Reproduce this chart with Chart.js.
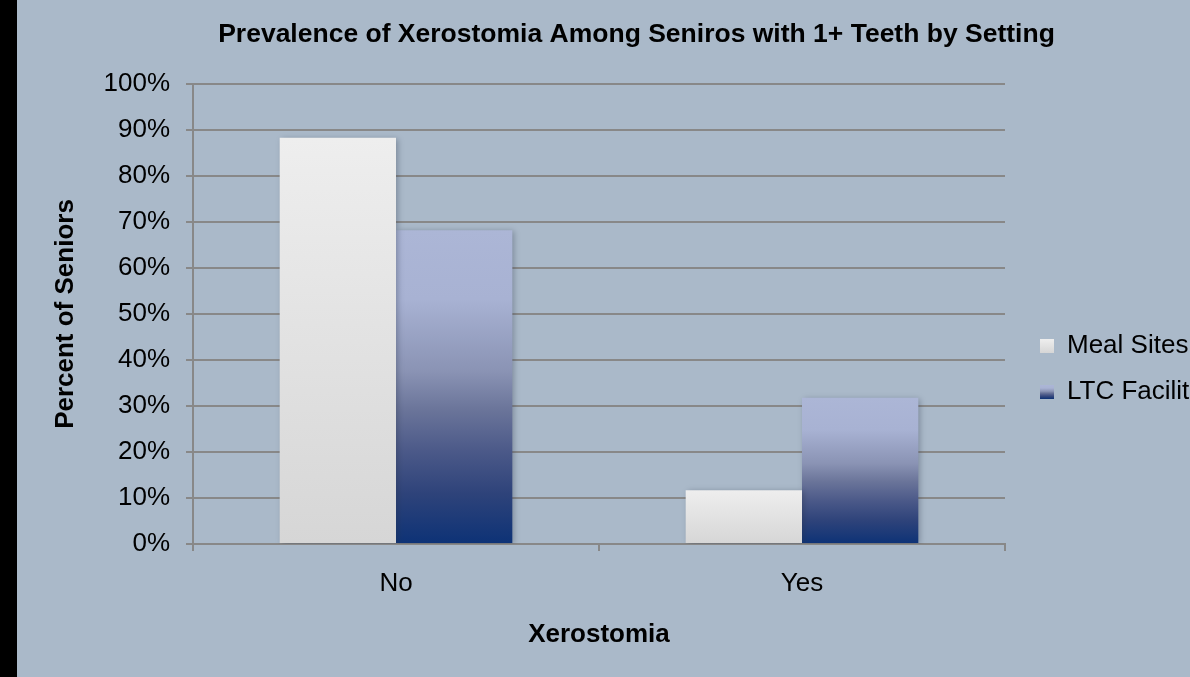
<!DOCTYPE html>
<html>
<head>
<meta charset="utf-8">
<script src="https://cdn.jsdelivr.net/npm/chart.js@4.4.0/dist/chart.umd.min.js"></script>
<style>
html,body{margin:0;padding:0;background:#AAB9C9;overflow:hidden}
canvas{display:block}
</style>
</head>
<body>
<canvas id="c" width="1190" height="677" style="width:1190px;height:677px"></canvas>
<script>
// ---- data ----
const categories = ['No', 'Yes'];
const seriesNames = ['Meal Sites', 'LTC Facilities'];
const mealSites = [88.3, 11.7];
const ltcFacilities = [68.2, 31.8];
const yTickValues = [0, 10, 20, 30, 40, 50, 60, 70, 80, 90, 100];
const titleText = 'Prevalence of Xerostomia Among Seniros with 1+ Teeth by Setting';
const xTitle = 'Xerostomia';
const yTitle = 'Percent of Seniors';

// ---- styles ----
const FONT = "'Liberation Sans', Arial, sans-serif";
const BG = '#AAB9C9';
const GRID = '#888888';
const greyStops = [[0, '#EEEEEE'], [1, '#D6D6D6']];
const blueStops = [[0, '#ACB6D6'], [0.22, '#A8B2D3'], [0.45, '#8A93B4'], [0.57, '#6B759A'], [0.71, '#4A5888'], [0.84, '#2E437A'], [1, '#0D3276']];

function barGradient(ctx, stops) {
  const chart = ctx.chart;
  const y = chart.scales && chart.scales.y;
  if (!chart.chartArea || !y || ctx.raw == null) return stops[Math.floor(stops.length / 2)][1];
  const top = y.getPixelForValue(ctx.raw);
  const bottom = y.getPixelForValue(0);
  const g = chart.ctx.createLinearGradient(0, top, 0, bottom);
  stops.forEach(s => g.addColorStop(s[0], s[1]));
  return g;
}

const bgPlugin = {
  id: 'bg',
  beforeDraw(chart) {
    const c = chart.ctx;
    c.save();
    c.fillStyle = BG;
    c.fillRect(0, 0, chart.width, chart.height);
    c.fillStyle = '#000';
    c.fillRect(0, 0, 17, chart.height);
    c.restore();
    const lg = chart.legend;
    if (lg && lg.legendItems && lg.legendHitBoxes) {
      lg.legendItems.forEach((item, i) => {
        const hb = lg.legendHitBoxes[i];
        if (!hb) return;
        const top = hb.top + 6, bot = top + 14;
        const g = c.createLinearGradient(0, top, 0, bot);
        (i === 0 ? greyStops : blueStops).forEach(s => g.addColorStop(s[0], s[1]));
        item.fillStyle = g;
      });
    }
  }
};

const shiftPlugin = {
  id: 'shift',
  afterLayout(chart) {
    const t = chart.titleBlock;
    if (t) { t.left += 83; }
    const l = chart.legend;
    if (l) { l.left += 15; l.right += 15; l.top += 30.5; l.bottom += 30.5; }
  }
};

const shadowPlugin = {
  id: 'shadow',
  beforeDatasetsDraw(chart) {
    const c = chart.ctx;
    c.save();
    c.shadowColor = 'rgba(40,50,70,0.35)';
    c.shadowBlur = 6;
    c.shadowOffsetX = 2;
    c.shadowOffsetY = 1;
  },
  afterDatasetsDraw(chart) { chart.ctx.restore(); }
};

new Chart(document.getElementById('c'), {
  type: 'bar',
  data: {
    labels: categories,
    datasets: [
      { label: seriesNames[0], data: mealSites, backgroundColor: c => barGradient(c, greyStops), borderWidth: 0 },
      { label: seriesNames[1], data: ltcFacilities, backgroundColor: c => barGradient(c, blueStops), borderWidth: 0 }
    ]
  },
  options: {
    responsive: false,
    animation: false,
    devicePixelRatio: 1,
    datasets: { bar: { categoryPercentage: 0.573, barPercentage: 1 } },
    layout: { padding: 0 },
    plugins: {
      title: {
        display: true, text: titleText, color: '#000',
        font: { family: FONT, size: 26.5, weight: 'bold' },
        padding: { top: 19, bottom: 33.2 }
      },
      legend: {
        position: 'right', maxWidth: 185,
        labels: { color: '#000', font: { family: FONT, size: 26 }, boxWidth: 14, boxHeight: 14, padding: 20 }
      },
      tooltip: { enabled: false }
    },
    scales: {
      x: {
        grid: { display: true, drawOnChartArea: false, drawTicks: true, tickLength: 7, color: GRID, lineWidth: 2 },
        border: { display: true, color: GRID, width: 2 },
        ticks: { color: '#000', font: { family: FONT, size: 26 }, padding: 17 },
        title: { display: true, text: xTitle, color: '#000', font: { family: FONT, size: 26, weight: 'bold' }, padding: { top: 0, bottom: 27 } },
        afterFit(s) { s.height = 133; }
      },
      y: {
        min: yTickValues[0], max: yTickValues[yTickValues.length - 1],
        afterBuildTicks(s) { s.ticks = yTickValues.map(v => ({ value: v })); },
        ticks: { callback: v => v + '%', color: '#000', font: { family: FONT, size: 26 }, padding: 16 },
        grid: { color: GRID, lineWidth: 2, tickLength: 7, drawTicks: true },
        border: { display: true, color: GRID, width: 2 },
        title: { display: true, text: yTitle, color: '#000', font: { family: FONT, size: 26, weight: 'bold' }, padding: { top: 50, bottom: 0 } },
        afterFit(s) { s.width = 193; }
      }
    }
  },
  plugins: [bgPlugin, shiftPlugin, shadowPlugin]
});
</script>
</body>
</html>
